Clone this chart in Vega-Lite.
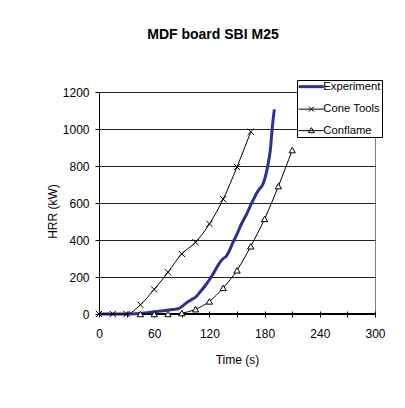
{
  "$schema": "https://vega.github.io/schema/vega-lite/v6.json",
  "width": 276,
  "height": 222,
  "autosize": {"type": "none"},
  "padding": {"left": 99, "top": 92, "right": 30, "bottom": 94},
  "background": "white",
  "title": {
    "text": "MDF board SBI M25",
    "font": "Liberation Sans",
    "fontSize": 14,
    "fontWeight": "bold",
    "color": "black",
    "anchor": "middle",
    "frame": "group",
    "baseline": "alphabetic",
    "offset": 27,
    "dx": -24
  },
  "datasets": {
    "hrr": [
      {"series": "Experiment", "t": 0, "hrr": 0},
      {"series": "Experiment", "t": 10, "hrr": 0},
      {"series": "Experiment", "t": 20, "hrr": 0},
      {"series": "Experiment", "t": 30, "hrr": 0},
      {"series": "Experiment", "t": 40, "hrr": 2},
      {"series": "Experiment", "t": 50, "hrr": 6},
      {"series": "Experiment", "t": 60, "hrr": 12},
      {"series": "Experiment", "t": 70, "hrr": 18},
      {"series": "Experiment", "t": 80, "hrr": 24},
      {"series": "Experiment", "t": 86, "hrr": 28},
      {"series": "Experiment", "t": 90, "hrr": 40},
      {"series": "Experiment", "t": 95, "hrr": 60},
      {"series": "Experiment", "t": 100, "hrr": 76},
      {"series": "Experiment", "t": 106, "hrr": 96},
      {"series": "Experiment", "t": 110, "hrr": 120},
      {"series": "Experiment", "t": 115, "hrr": 150},
      {"series": "Experiment", "t": 120, "hrr": 185},
      {"series": "Experiment", "t": 125, "hrr": 225},
      {"series": "Experiment", "t": 130, "hrr": 268},
      {"series": "Experiment", "t": 135, "hrr": 300},
      {"series": "Experiment", "t": 138, "hrr": 310},
      {"series": "Experiment", "t": 141, "hrr": 335},
      {"series": "Experiment", "t": 145, "hrr": 380},
      {"series": "Experiment", "t": 150, "hrr": 432},
      {"series": "Experiment", "t": 155, "hrr": 488},
      {"series": "Experiment", "t": 160, "hrr": 535},
      {"series": "Experiment", "t": 165, "hrr": 590},
      {"series": "Experiment", "t": 168, "hrr": 620},
      {"series": "Experiment", "t": 171, "hrr": 650},
      {"series": "Experiment", "t": 174, "hrr": 673},
      {"series": "Experiment", "t": 178, "hrr": 700},
      {"series": "Experiment", "t": 181, "hrr": 745},
      {"series": "Experiment", "t": 183, "hrr": 790},
      {"series": "Experiment", "t": 185, "hrr": 845},
      {"series": "Experiment", "t": 186.5, "hrr": 900},
      {"series": "Experiment", "t": 187.7, "hrr": 970},
      {"series": "Experiment", "t": 189, "hrr": 1040},
      {"series": "Experiment", "t": 190.6, "hrr": 1106},
      {"series": "Cone Tools", "t": 0, "hrr": 0},
      {"series": "Cone Tools", "t": 15, "hrr": 0},
      {"series": "Cone Tools", "t": 30, "hrr": 0},
      {"series": "Cone Tools", "t": 45, "hrr": 50},
      {"series": "Cone Tools", "t": 60, "hrr": 133},
      {"series": "Cone Tools", "t": 75, "hrr": 226},
      {"series": "Cone Tools", "t": 90, "hrr": 325},
      {"series": "Cone Tools", "t": 105, "hrr": 388},
      {"series": "Cone Tools", "t": 120, "hrr": 487},
      {"series": "Cone Tools", "t": 135, "hrr": 621},
      {"series": "Cone Tools", "t": 150, "hrr": 795},
      {"series": "Cone Tools", "t": 165, "hrr": 985},
      {"series": "Conflame", "t": 45, "hrr": 0},
      {"series": "Conflame", "t": 60, "hrr": 0},
      {"series": "Conflame", "t": 75, "hrr": 0},
      {"series": "Conflame", "t": 90, "hrr": 5},
      {"series": "Conflame", "t": 105, "hrr": 26},
      {"series": "Conflame", "t": 120, "hrr": 68},
      {"series": "Conflame", "t": 135, "hrr": 141},
      {"series": "Conflame", "t": 150, "hrr": 236},
      {"series": "Conflame", "t": 165, "hrr": 366},
      {"series": "Conflame", "t": 180, "hrr": 514},
      {"series": "Conflame", "t": 195, "hrr": 691},
      {"series": "Conflame", "t": 210, "hrr": 886}
    ]
  },
  "data": {"name": "hrr"},
  "encoding": {
    "x": {
      "field": "t",
      "type": "quantitative",
      "scale": {"domain": [0, 300], "nice": false},
      "axis": {
        "title": "Time (s)",
        "values": [0, 30, 60, 90, 120, 150, 180, 210, 240, 270, 300],
        "labelExpr": "datum.value % 60 === 0 ? datum.label : ''",
        "grid": false,
        "domain": false,
        "offset": -3,
        "tickSize": 6,
        "tickColor": "black",
        "labelPadding": 11,
        "labelFont": "Liberation Sans",
        "labelFontSize": 12,
        "labelColor": "black",
        "labelFlush": false,
        "titleFont": "Liberation Sans",
        "titleFontSize": 12,
        "titleFontWeight": "normal",
        "titleColor": "black",
        "titleX": 138,
        "titleY": 48,
        "titleAlign": "center",
        "titleBaseline": "middle"
      }
    },
    "y": {
      "field": "hrr",
      "type": "quantitative",
      "scale": {"domain": [0, 1200], "nice": false},
      "axis": {
        "title": "HRR (kW)",
        "values": [0, 200, 400, 600, 800, 1000, 1200],
        "format": "d",
        "grid": true,
        "gridColor": "#222222",
        "gridWidth": 1,
        "domain": true,
        "domainColor": "black",
        "tickSize": 4,
        "tickColor": "black",
        "labelPadding": 6,
        "labelFont": "Liberation Sans",
        "labelFontSize": 12,
        "labelColor": "black",
        "titleFont": "Liberation Sans",
        "titleFontSize": 12,
        "titleFontWeight": "normal",
        "titleColor": "black",
        "titleX": -47,
        "titleY": 119,
        "titleAngle": -90,
        "titleAlign": "center",
        "titleBaseline": "middle"
      }
    },
    "color": {
      "field": "series",
      "type": "nominal",
      "scale": {"domain": ["Experiment", "Cone Tools", "Conflame"], "range": ["#2E3192", "black", "black"]},
      "legend": {
        "orient": "none",
        "legendX": 198,
        "legendY": -12,
        "zindex": 1,
        "title": null,
        "fillColor": "white",
        "strokeColor": "black",
        "padding": 1,
        "labelOffset": 14,
        "rowPadding": 9.5,
        "labelFont": "Liberation Sans",
        "labelFontSize": 11.3,
        "labelColor": "black",
        "labelExpr": "datum.label + '\u00a0\u00a0\u00a0'",
        "encode": {
          "symbols": {
            "update": {
              "shape": {"signal": "datum.value === 'Experiment' ? 'M-0.67,0H2.67' : datum.value === 'Cone Tools' ? 'M-0.67,0H2.67M0.7,-0.33L1.36,0.33M0.7,0.33L1.36,-0.33' : 'M-0.67,0H2.67M1.03,-0.4L1.43,0.27L0.63,0.27Z'"},
              "size": {"value": 225},
              "strokeWidth": {"signal": "datum.value === 'Experiment' ? 3 : 1"},
              "fill": {"value": "white"},
              "fillOpacity": {"value": 1},
              "opacity": {"value": 1}
            }
          }
        }
      }
    }
  },
  "layer": [
    {
      "mark": {"type": "rule", "color": "black", "strokeWidth": 1},
      "encoding": {"x": null, "color": null, "y": {"datum": 0}}
    },
    {
      "mark": {"type": "line", "interpolate": "monotone"},
      "encoding": {
        "strokeWidth": {
          "condition": {"test": "datum.series === 'Experiment'", "value": 3},
          "value": 1
        }
      }
    },
    {
      "transform": [{"filter": "datum.series !== 'Experiment'"}],
      "mark": {"type": "point", "fill": "white", "stroke": "black", "strokeWidth": 1, "opacity": 1, "size": 40},
      "encoding": {
        "color": null,
        "shape": {
          "condition": {"test": "datum.series === 'Cone Tools'", "value": "M-1,-1L1,1M-1,1L1,-1"},
          "value": "triangle-up"
        }
      }
    }
  ],
  "config": {
    "view": {"stroke": "#808080", "strokeWidth": 1},
    "font": "Liberation Sans",
    "legend": {
      "fillColor": "white",
      "strokeColor": "black"
    }
  }
}
